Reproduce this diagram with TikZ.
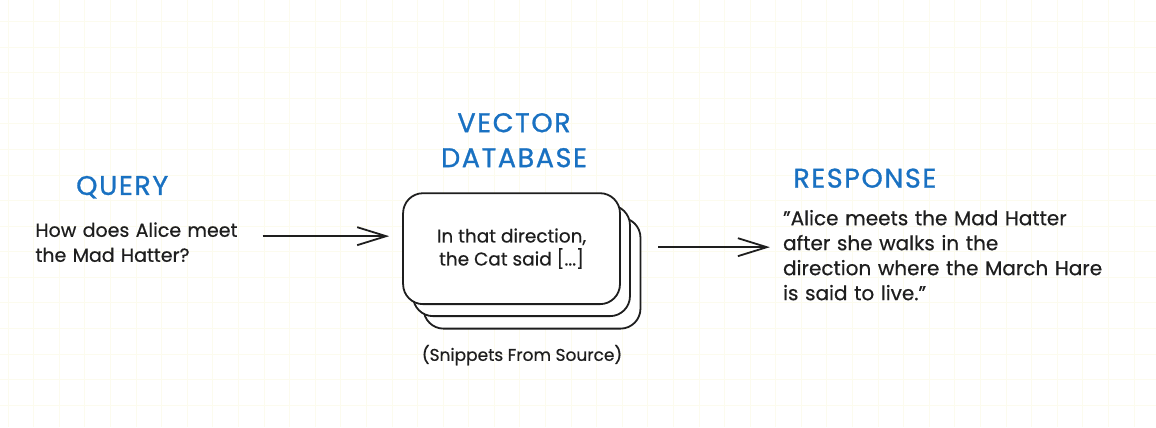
\documentclass[tikz,border=0pt]{standalone}
\usepackage{fontspec}
\setmainfont{Poppins}[FakeBold=0.5]
\newfontfamily\headfont{Poppins}[FakeBold=1, LetterSpace=6]
\usetikzlibrary{arrows.meta}
\definecolor{inkblack}{HTML}{1E1E1E}
\definecolor{headblue}{HTML}{1971C2}
\definecolor{gridtint}{RGB}{252,251,238}
\tikzset{
  headtext/.style={text=headblue, font=\headfont\fontsize{27}{35}\selectfont, align=center, inner sep=0pt},
  bodytext/.style={text=inkblack, font=\fontsize{19}{25}\selectfont, align=left, inner sep=0pt, anchor=west},
  cardbox/.style={draw=inkblack, line width=1.8pt, fill=white, rounded corners=20pt, minimum width=217pt, minimum height=111pt},
  flowarrow/.style={draw=inkblack, line width=1.8pt, -{Straight Barb[length=29pt, width=18pt]}}
}
\begin{document}
\begin{tikzpicture}[x=1pt, y=-1pt]
\fill[white] (0,0) rectangle (1156,427);
\foreach \gx in {7.7,33.3,...,1156} \draw[gridtint, line width=0.6pt] (\gx,0) -- (\gx,427);
\foreach \gy in {21,46.6,...,427} \draw[gridtint, line width=0.6pt] (0,\gy) -- (1156,\gy);
\useasboundingbox (0,0) rectangle (1156,427);

\node[headtext] (queryhead) at (122,187) {QUERY};
\node[bodytext, text width=205pt] (ask) at (35,242) {How does Alice meet\\the Mad Hatter?};

\node[headtext] (dbhead) at (514,140) {VECTOR\\DATABASE};
\node[cardbox] (snipC) at (532,273) {};
\node[cardbox] (snipB) at (521.5,260.5) {};
\node[cardbox, text=inkblack, font=\fontsize{18.5}{23}\selectfont, align=center] (snip) at (511.5,248.5) {In that direction,\\the Cat said [...]};
\node[text=inkblack, font=\fontsize{17}{20}\selectfont] (source) at (522,355) {(Snippets From Source)};

\node[headtext] (answerhead) at (865,178) {RESPONSE};
\node[bodytext, font=\fontsize{20}{25}\selectfont, text width=340pt] (answer) at (783,255) {\symbol{34}Alice meets the Mad Hatter\\after she walks in the\\direction where the March Hare\\is said to live.\symbol{34}};

\draw[flowarrow, shorten <=22pt, shorten >=13pt] ([yshift=6pt]ask.east) -- ([yshift=6pt]ask.east -| snip.west);
\draw[flowarrow, shorten <=17pt, shorten >=13pt] ([yshift=26pt]snipC.east) -- ([yshift=26pt]snipC.east -| answer.west);
\end{tikzpicture}
\end{document}
